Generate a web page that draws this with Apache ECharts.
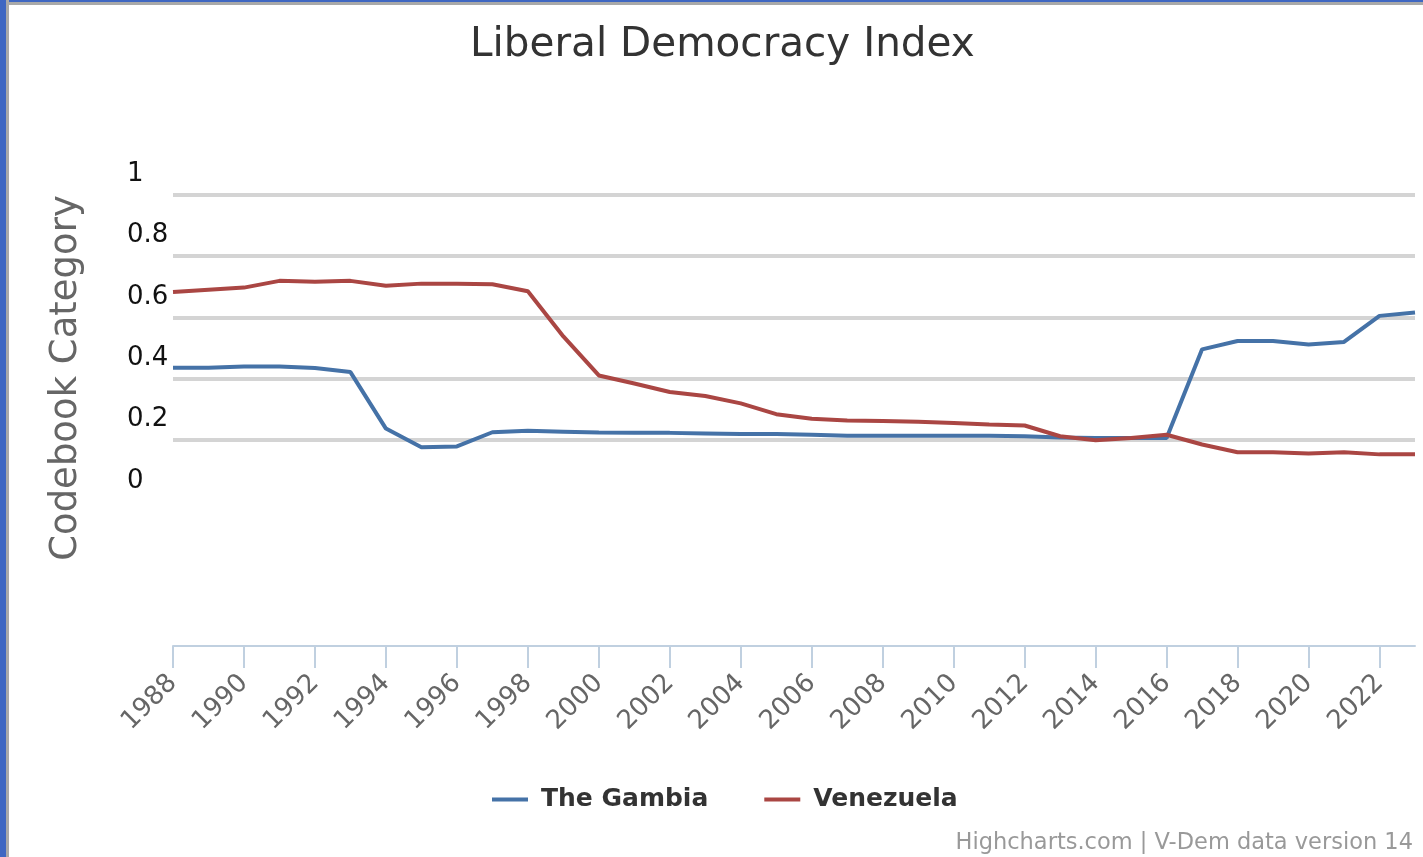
<!DOCTYPE html>
<html>
<head>
<meta charset="utf-8">
<script src="https://cdn.jsdelivr.net/npm/echarts@6/dist/echarts.min.js"></script>
<style>
  html, body { margin: 0; padding: 0; background: #fff; }
  #chart { position: absolute; left: 0; top: 0; width: 1423px; height: 857px; }
  #frameLeft { position: absolute; left: 0; top: 0; width: 6px; height: 857px; background: #3f67c2; border-right: 3px solid #a9a9a9; }
  #frameTop { position: absolute; left: 0; top: 0; width: 1423px; height: 2px; background: #3f67c2; border-bottom: 3px solid #a9a9a9; }
</style>
</head>
<body>
<div id="chart"></div>
<div id="frameTop"></div>
<div id="frameLeft"></div>
<script>
const years = ['1988','1989','1990','1991','1992','1993','1994','1995','1996','1997',
  '1998','1999','2000','2001','2002','2003','2004','2005','2006','2007',
  '2008','2009','2010','2011','2012','2013','2014','2015','2016','2017',
  '2018','2019','2020','2021','2022','2023'];

const gambia = [0.356, 0.356, 0.360, 0.360, 0.355, 0.342, 0.158, 0.097, 0.100, 0.146,
  0.151, 0.148, 0.145, 0.144, 0.144, 0.142, 0.140, 0.140, 0.138, 0.135,
  0.135, 0.135, 0.135, 0.135, 0.133, 0.129, 0.127, 0.127, 0.127, 0.416,
  0.443, 0.443, 0.432, 0.440, 0.525, 0.536];

const venezuela = [0.603, 0.610, 0.617, 0.639, 0.636, 0.639, 0.623, 0.630, 0.630, 0.628,
  0.605, 0.458, 0.331, 0.305, 0.277, 0.264, 0.240, 0.205, 0.190, 0.184,
  0.183, 0.180, 0.176, 0.171, 0.168, 0.133, 0.120, 0.127, 0.138, 0.106,
  0.081, 0.081, 0.077, 0.081, 0.074, 0.074];

const yTicks = [0, 0.2, 0.4, 0.6, 0.8, 1];
const seriesNames = ['The Gambia', 'Venezuela'];
const titleText = 'Liberal Democracy Index';
const yAxisTitle = 'Codebook Category';
const creditText = 'Highcharts.com | V-Dem data version 14';

// gridlines in the reference are drawn slightly below the tick labels
const gridShift = 0.082;
const gridValues = yTicks.filter(v => v > 0).map(v => v - gridShift);

const FONT = 'DejaVu Sans';
const chart = echarts.init(document.getElementById('chart'), null, { renderer: 'canvas' });

chart.setOption({
  animation: false,
  backgroundColor: '#ffffff',
  title: {
    text: titleText,
    left: 465,
    top: 20,
    textStyle: { fontFamily: FONT, fontSize: 40.5, fontWeight: 'normal', color: '#333333' }
  },
  grid: { left: 173, right: 8, top: 170, bottom: 211, containLabel: false },
  legend: {
    data: seriesNames,
    left: 487,
    top: 782,
    itemGap: 56,
    icon: 'rect',
    itemWidth: 36,
    itemHeight: 4,
    textStyle: { fontFamily: FONT, fontSize: 25, fontWeight: 'bold', color: '#333333', padding: [0, 0, 0, 8] }
  },
  xAxis: {
    type: 'category',
    data: years,
    boundaryGap: false,
    axisLine: { show: true, onZero: false, lineStyle: { color: '#c0d0e0', width: 2 } },
    axisTick: { show: true, interval: 1, length: 22, lineStyle: { color: '#c0d0e0', width: 2 } },
    axisLabel: {
      interval: 1,
      rotate: 45,
      margin: 33,
      fontFamily: FONT,
      fontSize: 26,
      color: '#666666'
    },
    splitLine: { show: false }
  },
  yAxis: {
    type: 'value',
    min: -0.55,
    max: 1,
    interval: 0.05,
    axisLine: { show: false },
    axisTick: { show: false },
    splitLine: { show: false },
    axisLabel: {
      align: 'left',
      verticalAlign: 'top',
      lineHeight: 8,
      margin: 46,
      fontFamily: FONT,
      fontSize: 26,
      color: '#111111',
      formatter: function (v) {
        const t = yTicks.find(x => Math.abs(x - v) < 1e-6);
        return t === undefined ? '' : String(t);
      }
    }
  },
  graphic: [
    {
      type: 'text',
      x: 66,
      y: 378,
      rotation: Math.PI / 2,
      style: {
        text: yAxisTitle,
        align: 'center',
        verticalAlign: 'middle',
        fontFamily: FONT,
        fontSize: 37,
        fill: '#666666'
      }
    },
    {
      type: 'text',
      x: 1413,
      y: 843,
      style: {
        text: creditText,
        align: 'right',
        verticalAlign: 'middle',
        fontFamily: FONT,
        fontSize: 22.5,
        fill: '#999999'
      }
    }
  ],
  series: [
    {
      name: seriesNames[0],
      type: 'line',
      data: gambia,
      symbol: 'none',
      z: 3,
      lineStyle: { color: '#4572a7', width: 4 },
      itemStyle: { color: '#4572a7' },
      markLine: {
        silent: true,
        z: 1,
        symbol: ['none', 'none'],
        label: { show: false },
        lineStyle: { color: '#d4d4d4', width: 4, type: 'solid' },
        emphasis: { disabled: true },
        data: gridValues.map(v => ({ yAxis: v }))
      }
    },
    {
      name: seriesNames[1],
      type: 'line',
      data: venezuela,
      symbol: 'none',
      z: 3,
      lineStyle: { color: '#aa4643', width: 4 },
      itemStyle: { color: '#aa4643' }
    }
  ]
});
</script>
</body>
</html>
